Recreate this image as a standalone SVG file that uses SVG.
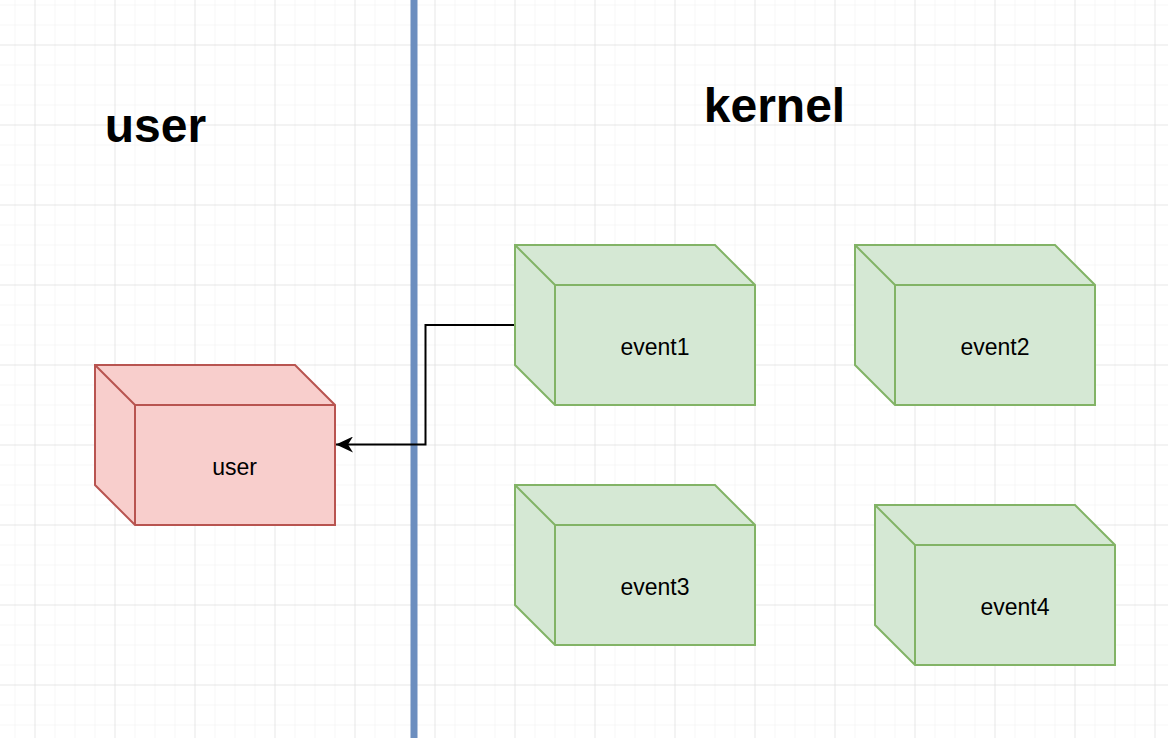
<svg xmlns="http://www.w3.org/2000/svg" width="1168" height="738" viewBox="0 0 1168 738">
<defs>
<pattern id="minor" x="14.5" y="4.5" width="20" height="20" patternUnits="userSpaceOnUse">
<path d="M0 0H20M0 0V20" fill="none" stroke="#f0f0f0" stroke-width="1"/>
</pattern>
<pattern id="major" x="34.5" y="44.5" width="80" height="80" patternUnits="userSpaceOnUse">
<path d="M0 0H80M0 0V80" fill="none" stroke="#d9d9d9" stroke-width="1"/>
</pattern>
<marker id="arrow" viewBox="0 0 17 16" refX="17" refY="8" markerWidth="17" markerHeight="16" markerUnits="userSpaceOnUse" orient="auto">
<path d="M17 8L0 0L5 8L0 16Z" fill="#000"/>
</marker>
</defs>
<style>
.green .body{fill:#d5e8d4;stroke:#82b366;stroke-width:2;stroke-linejoin:miter}
.green .edge{fill:none;stroke:#82b366;stroke-width:2}
.red .body{fill:#f8cecc;stroke:#b85450;stroke-width:2}
.red .edge{fill:none;stroke:#b85450;stroke-width:2}
.lbl{font-family:"Liberation Sans",Arial,Helvetica,sans-serif;font-size:23px;fill:#000;text-anchor:middle}
.title{font-family:"Liberation Sans",Arial,Helvetica,sans-serif;font-size:48px;font-weight:bold;fill:#000;text-anchor:middle}
</style>
<rect width="1168" height="738" fill="#ffffff"/>
<rect width="1168" height="738" fill="url(#minor)"/>
<rect width="1168" height="738" fill="url(#major)"/>

<g id="divider">
<line x1="414" y1="0" x2="414" y2="738" stroke="#6c8ebf" stroke-width="7"/>
</g>

<g id="title-user"><text class="title" x="155.5" y="142">user</text></g>
<g id="title-kernel"><text class="title" x="774.5" y="122">kernel</text></g>

<g id="node-user" class="red">
<path class="body" d="M95 365H295L335 405V525H135L95 485Z"/>
<path class="edge" d="M95 365L135 405H335M135 405V525"/>
<text class="lbl" x="234.5" y="475">user</text>
</g>

<g id="node-event1" class="green">
<path class="body" d="M515 245H715L755 285V405H555L515 365Z"/>
<path class="edge" d="M515 245L555 285H755M555 285V405"/>
<text class="lbl" x="655" y="355">event1</text>
</g>

<g id="node-event2" class="green">
<path class="body" d="M855 245H1055L1095 285V405H895L855 365Z"/>
<path class="edge" d="M855 245L895 285H1095M895 285V405"/>
<text class="lbl" x="995" y="355">event2</text>
</g>

<g id="node-event3" class="green">
<path class="body" d="M515 485H715L755 525V645H555L515 605Z"/>
<path class="edge" d="M515 485L555 525H755M555 525V645"/>
<text class="lbl" x="655" y="595">event3</text>
</g>

<g id="node-event4" class="green">
<path class="body" d="M875 505H1075L1115 545V665H915L875 625Z"/>
<path class="edge" d="M875 505L915 545H1115M915 545V665"/>
<text class="lbl" x="1015" y="615">event4</text>
</g>

<g id="connectors">
<path d="M514 325H425.5V444.5H336" fill="none" stroke="#000" stroke-width="2" marker-end="url(#arrow)"/>
</g>
</svg>
